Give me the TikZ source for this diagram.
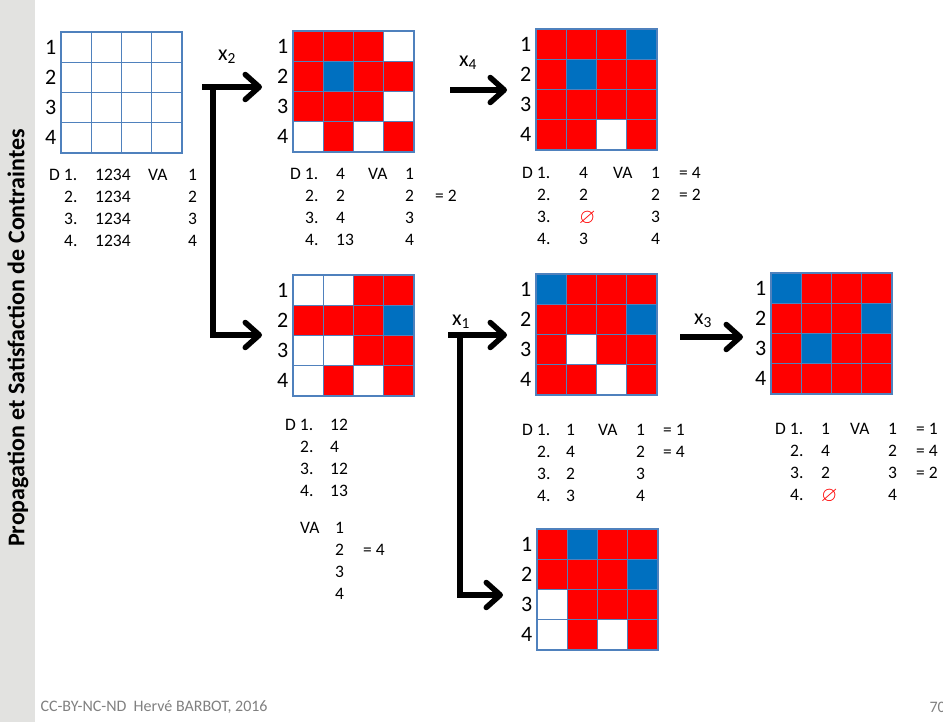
\documentclass[tikz,border=0pt]{standalone}
\usepackage{fontspec}
\setmainfont{Carlito}
\usepackage{amssymb}
\usetikzlibrary{arrows.meta}
\usetikzlibrary{positioning}

\definecolor{cr}{HTML}{FF0000}
\definecolor{cb}{HTML}{0070C0}
\colorlet{cw}{white}
\definecolor{gridblue}{HTML}{4F81BD}
\definecolor{stripgray}{HTML}{E2E2E0}

% 4x4 grid of cells: name, left, top, rows of colours
\newcommand{\cellgrid}[4]{%
  \foreach \row [count=\i] in {#4} {
    \foreach \col [count=\j] in \row {
      \node[cell, fill=\col] (#1-\i-\j) at ({#2+(\j-0.5)*\cw}, {#3+(\i-0.5)*\cw}) {};
    }
    \node[rowlbl, left=3pt of #1-\i-1] (#1-l\i) {\i};
  }
}

% list of domains: name, x, y, value x, VA x, index x, values, "=" x, index/text pairs
\newcommand{\domlist}[9]{%
  \node[txt] (#1) at (#2,#3) {D 1.};
  \foreach \v [count=\i] in {#7} {
    \ifnum\i>1 \node[txt] at ({#2+15},{#3+(\i-1)*\dy}) {\i.};\fi
    \node[txt] at (#4,{#3+(\i-1)*\dy}) {\v};
    \node[txt] at (#6,{#3+(\i-1)*\dy}) {\i};
  }
  \foreach \i/\e in {#9} {
    \node[txt] at (#8,{#3+(\i-1)*\dy}) {\e};
  }
  \node[txt] at (#5,#3) {VA};
}

\newcommand{\nogood}{\raisebox{-1pt}[11pt][0pt]{\textcolor{cr}{\fontsize{21}{21}\selectfont$\varnothing$}}}

\begin{document}
\begin{tikzpicture}[x=1pt, y=-1pt,
    cell/.style={draw=gridblue, line width=1.2pt, minimum size=\cw pt, inner sep=0pt},
    rowlbl/.style={inner sep=1pt, font=\fontsize{22}{26}\selectfont},
    txt/.style={anchor=west, inner sep=0pt, font=\fontsize{17.5}{21}\selectfont},
    xlbl/.style={font=\fontsize{22}{26}\selectfont},
    flow/.style={line width=5.5pt, -{Straight Barb[length=14pt, width=25pt, round]}}]
  % Define the cell width and the line spacing
  \def\cw{30.25}
  \def\dy{21.9}

  \useasboundingbox (0,0) rectangle (943,722);

  % Side band and title
  \fill[stripgray] (0,0) rectangle (35,722);
  \node[rotate=90, font=\fontsize{24}{28}\selectfont\bfseries] (title) at (18,338)
    {Propagation et Satisfaction de Contraintes};

  % Draw the grids
  \cellgrid{g1}{61}{32}{{cw,cw,cw,cw},{cw,cw,cw,cw},{cw,cw,cw,cw},{cw,cw,cw,cw}}
  \cellgrid{g2}{293}{31}{{cr,cr,cr,cw},{cr,cb,cr,cr},{cr,cr,cr,cw},{cw,cr,cw,cr}}
  \cellgrid{g3}{536}{29}{{cr,cr,cr,cb},{cr,cb,cr,cr},{cr,cr,cr,cr},{cr,cr,cw,cr}}
  \cellgrid{g4}{293}{275}{{cw,cw,cr,cr},{cr,cr,cr,cb},{cw,cw,cr,cr},{cw,cr,cw,cr}}
  \cellgrid{g5}{536}{274}{{cb,cr,cr,cr},{cr,cr,cr,cb},{cr,cw,cr,cr},{cr,cr,cw,cr}}
  \cellgrid{g6}{771}{273}{{cb,cr,cr,cr},{cr,cr,cr,cb},{cr,cb,cr,cr},{cr,cr,cr,cr}}
  \cellgrid{g7}{537}{529}{{cr,cb,cr,cr},{cr,cr,cr,cb},{cw,cr,cr,cr},{cw,cr,cw,cr}}

  % Domains and assignments
  \domlist{d1}{49}{175}{95}{148}{188}{1234,1234,1234,1234}{0}{}
  \domlist{d2}{290}{174}{336}{368}{405}{4,2,4,13}{435}{2/{= 2}}
  \domlist{d3}{522}{173}{579}{613}{651}{4,2,\nogood,3}{679}{1/{= 4},2/{= 2}}
  \domlist{d5}{522}{430}{566}{598}{636}{1,4,2,3}{663}{1/{= 1},2/{= 4}}
  \domlist{d6}{775}{429}{821}{850}{888}{1,4,2,\nogood}{916}{1/{= 1},2/{= 4},3/{= 2}}

  % Domains after x2 = 4, with VA below
  \node[txt] (d4) at (285,425) {D 1.};
  \foreach \v [count=\i] in {12,4,12,13} {
    \ifnum\i>1 \node[txt] at (300,{425+(\i-1)*\dy}) {\i.};\fi
    \node[txt] at (330,{425+(\i-1)*\dy}) {\v};
    \node[txt] at (335,{528+(\i-1)*\dy}) {\i};
  }
  \node[txt] (va4) at (300,528) {VA};
  \node[txt] at (363,{528+\dy}) {= 4};

  % Arrow points
  \coordinate (s2) at (202,87);  \coordinate (j2) at (213,87);
  \coordinate (t2) at (262,87);  \coordinate (t4) at (262,335);
  \coordinate (s3) at (450,90);  \coordinate (t3) at (507,90);
  \coordinate (s5) at (448,335); \coordinate (j5) at (460,335);
  \coordinate (t5) at (507,335); \coordinate (t7) at (503,595);
  \coordinate (s6) at (680,337); \coordinate (t6) at (743,337);

  % Draw the branching arrows
  \draw[flow] (s2) -- (t2);
  \draw[flow] (j2) |- (t4);
  \draw[flow] (s3) -- (t3);
  \draw[flow] (s5) -- (t5);
  \draw[flow] (j5) |- (t7);
  \draw[flow] (s6) -- (t6);

  \node[xlbl] (x2) at (227,57) {x\textsubscript{2}};
  \node[xlbl] (x4) at (468,63) {x\textsubscript{4}};
  \node[xlbl] (x1) at (461,322) {x\textsubscript{1}};
  \node[xlbl] (x3) at (703,321) {x\textsubscript{3}};

  % Footer
  \node[anchor=west, text=gray, font=\fontsize{16}{19}\selectfont] (foot) at (37,707)
    {CC-BY-NC-ND\ \ Hervé BARBOT, 2016};
  \node[anchor=west, text=gray, font=\fontsize{16}{19}\selectfont] (page) at (926,707) {70};
\end{tikzpicture}
\end{document}
